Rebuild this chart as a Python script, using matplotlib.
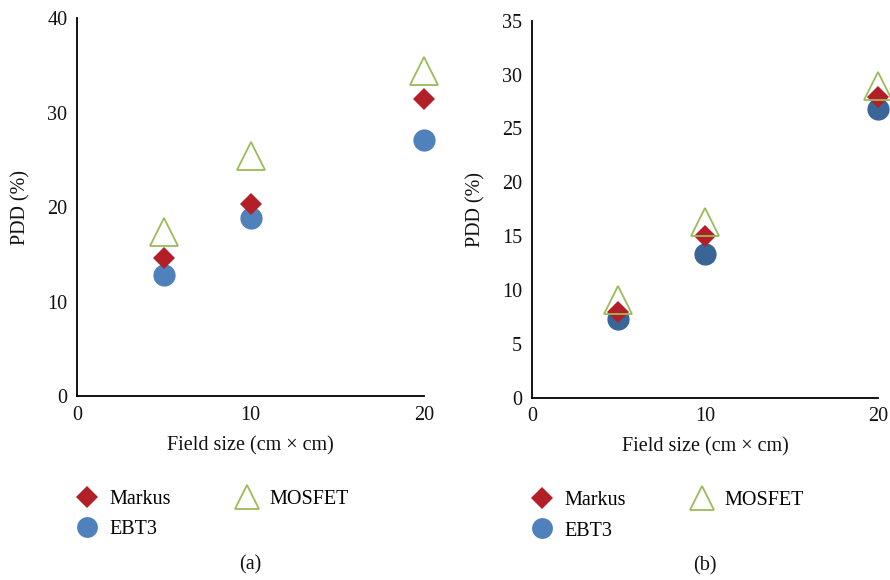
import matplotlib
matplotlib.use("Agg")
import matplotlib.pyplot as plt
from matplotlib.lines import Line2D

plt.rcParams['font.family'] = ['Liberation Serif', 'DejaVu Serif']

field_sizes = [5, 10, 20]
x_ticks = [0, 10, 20]

# Panel (a)
a_markus = [14.6, 20.3, 31.4]
a_mosfet = [17.4, 25.4, 34.4]
a_ebt3 = [12.8, 18.8, 27.1]
a_yticks = [0, 10, 20, 30, 40]

# Panel (b)
b_markus = [8.0, 15.0, 27.95]
b_mosfet = [9.1, 16.3, 28.9]
b_ebt3 = [7.3, 13.3, 26.8]
b_yticks = [0, 5, 10, 15, 20, 25, 30, 35]

c_markus = '#b31f27'
c_mosfet = '#9bbb59'
c_ebt3_a = '#4f81bd'
c_ebt3_b = '#3a6597'

FS = 14.5

fig = plt.figure(figsize=(8.9, 5.8), dpi=100)
ax1 = fig.add_axes([0.0865, 0.317, 0.390, 0.652])
ax2 = fig.add_axes([0.5975, 0.3143, 0.389, 0.650])

def draw(ax, markus, mosfet, ebt3, yticks, ebt3_color, label):
    ax.plot(field_sizes, ebt3, linestyle='none', marker='o', markersize=16,
            color=ebt3_color, markeredgewidth=0, clip_on=False)
    ax.plot(field_sizes, markus, linestyle='none', marker='D', markersize=11,
            color=c_markus, markeredgewidth=0, clip_on=False)
    ax.plot(field_sizes, mosfet, linestyle='none', marker='^', markersize=19.5,
            markerfacecolor='none', markeredgecolor=c_mosfet, markeredgewidth=1.3,
            clip_on=False)
    ax.set_xlim(0, 20)
    ax.set_ylim(yticks[0], yticks[-1])
    ax.set_xticks(x_ticks)
    ax.set_yticks(yticks)
    for s in ['top', 'right']:
        ax.spines[s].set_visible(False)
    for s in ['left', 'bottom']:
        ax.spines[s].set_linewidth(1.3)
        ax.spines[s].set_color('black')
    ax.tick_params(length=0, labelsize=FS, pad=7, colors='#111111')
    ax.set_xlabel('Field size (cm × cm)', fontsize=FS, labelpad=8, color='#111111')
    ax.set_ylabel('PDD (%)', fontsize=FS, labelpad=12, color='#111111')
    handles = [
        Line2D([], [], linestyle='none', marker='D', markersize=11, color=c_markus,
               markeredgewidth=0),
        Line2D([], [], linestyle='none', marker='o', markersize=15, color='#4f81bd',
               markeredgewidth=0),
        Line2D([], [], linestyle='none', marker='^', markersize=17, markerfacecolor='none',
               markeredgecolor=c_mosfet, markeredgewidth=1.3),
    ]
    ax.legend(handles, ['Markus', 'EBT3', 'MOSFET'], ncol=2, frameon=False,
              loc='upper left', bbox_to_anchor=(-0.058, -0.2), fontsize=FS,
              handletextpad=0.5, columnspacing=3.2, labelspacing=0.55,
              handlelength=1.2)
    ax.text(0.5, -0.445, label, transform=ax.transAxes, ha='center', va='center',
            fontsize=FS, color='#111111')

draw(ax1, a_markus, a_mosfet, a_ebt3, a_yticks, c_ebt3_a, '(a)')
draw(ax2, b_markus, b_mosfet, b_ebt3, b_yticks, c_ebt3_b, '(b)')

fig.savefig('out.png', dpi=100)
